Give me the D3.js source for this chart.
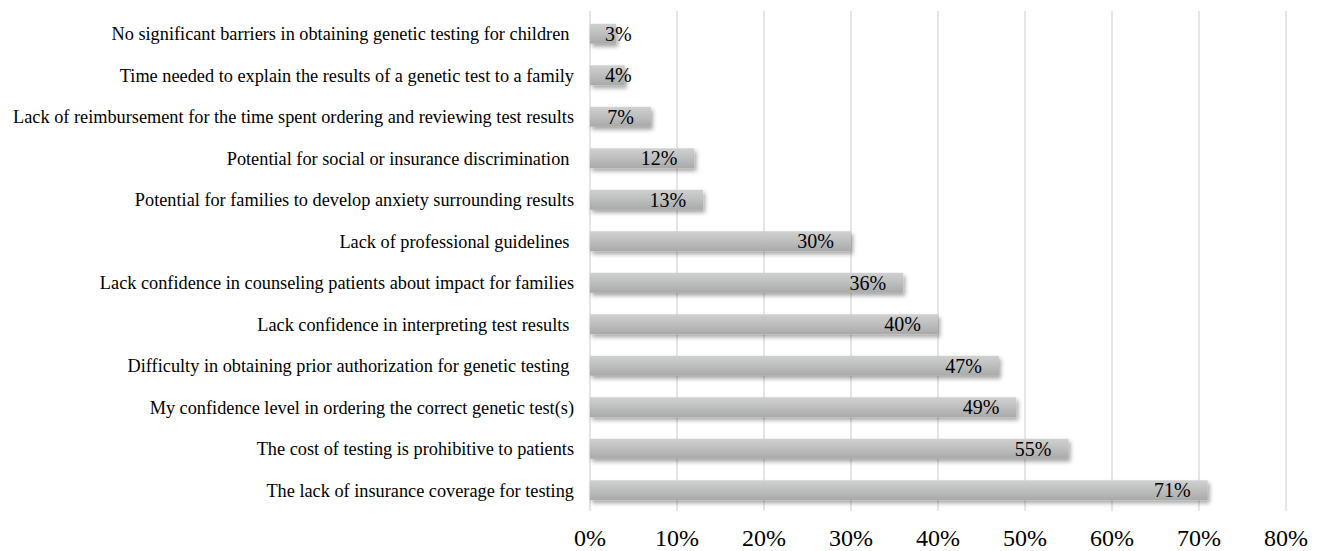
<!DOCTYPE html>
<html><head><meta charset="utf-8">
<script src="https://cdn.jsdelivr.net/npm/d3@7"></script>
<style>
html,body{margin:0;padding:0;background:#fff;}
svg{display:block;}
</style>
</head><body>
<svg id="chart" width="1320" height="551"></svg>
<script>
const categories = [
  "No significant barriers in obtaining genetic testing for children ",
  "Time needed to explain the results of a genetic test to a family",
  "Lack of reimbursement for the time spent ordering and reviewing test results",
  "Potential for social or insurance discrimination ",
  "Potential for families to develop anxiety surrounding results",
  "Lack of professional guidelines ",
  "Lack confidence in counseling patients about impact for families",
  "Lack confidence in interpreting test results ",
  "Difficulty in obtaining prior authorization for genetic testing ",
  "My confidence level in ordering the correct genetic test(s)",
  "The cost of testing is prohibitive to patients",
  "The lack of insurance coverage for testing"
];
const values = [3, 4, 7, 12, 13, 30, 36, 40, 47, 49, 55, 71];
const tickValues = [0, 10, 20, 30, 40, 50, 60, 70, 80];
const tickLabels = ["0%", "10%", "20%", "30%", "40%", "50%", "60%", "70%", "80%"];

const svg = d3.select("#chart");
const mLeft = 590, mRight = 1286, mTop = 13, mBottom = 511;
const x = d3.scaleLinear().domain([0, 80]).range([mLeft, mRight]);
const y = d3.scaleBand().domain(categories).range([mTop, mBottom]).paddingInner(0.52).paddingOuter(0.26);

const defs = svg.append("defs");
const grad = defs.append("linearGradient").attr("id", "barGrad").attr("x1", 0).attr("y1", 0).attr("x2", 0).attr("y2", 1);
grad.append("stop").attr("offset", "0%").attr("stop-color", "#cfd0d0");
grad.append("stop").attr("offset", "50%").attr("stop-color", "#bdbebe");
grad.append("stop").attr("offset", "100%").attr("stop-color", "#a9a9a9");
const f = defs.append("filter").attr("id", "shadow").attr("x", "-10%").attr("y", "-50%").attr("width", "130%").attr("height", "220%");
f.append("feDropShadow").attr("dx", 2).attr("dy", 3).attr("stdDeviation", 2).attr("flood-color", "#000").attr("flood-opacity", 0.35);

// gridlines
svg.append("g").selectAll("line").data(tickValues).join("line")
  .attr("x1", d => x(d)).attr("x2", d => x(d))
  .attr("y1", 11).attr("y2", 511)
  .attr("stroke", "#dcdcdc").attr("stroke-width", 1.5);

// bars
svg.append("g").selectAll("rect").data(values).join("rect")
  .attr("x", x(0))
  .attr("y", (d, i) => y(categories[i]))
  .attr("width", d => x(d) - x(0))
  .attr("height", y.bandwidth())
  .attr("fill", "url(#barGrad)")
  .attr("filter", "url(#shadow)");

// category labels
svg.append("g").selectAll("text").data(categories).join("text")
  .attr("x", 574)
  .attr("y", d => y(d) + y.bandwidth() / 2)
  .attr("dy", "0.35em")
  .attr("text-anchor", "end")
  .style("white-space", "pre")
  .attr("font-family", "'Liberation Serif', 'Times New Roman', serif")
  .attr("font-size", 18.3)
  .attr("fill", "#000")
  .text(d => d);

// value labels
const vl = svg.append("g").selectAll("text").data(values).join("text")
  .attr("y", (d, i) => y(categories[i]) + y.bandwidth() / 2)
  .attr("dy", "0.35em")
  .attr("text-anchor", "start")
  .attr("font-family", "'Liberation Serif', 'Times New Roman', serif")
  .attr("font-size", 20)
  .attr("fill", "#000")
  .text(d => d + "%");
vl.each(function(d) {
  const w = this.getComputedTextLength();
  const xs = Math.max(x(d) - 17 - w, x(0) + 15);
  d3.select(this).attr("x", xs);
});

// x tick labels
svg.append("g").selectAll("text").data(tickValues).join("text")
  .attr("x", d => x(d))
  .attr("y", 546)
  .attr("text-anchor", "middle")
  .attr("font-family", "'Liberation Serif', 'Times New Roman', serif")
  .attr("font-size", 24)
  .attr("fill", "#000")
  .text((d, i) => tickLabels[i]);
</script>
</body></html>
